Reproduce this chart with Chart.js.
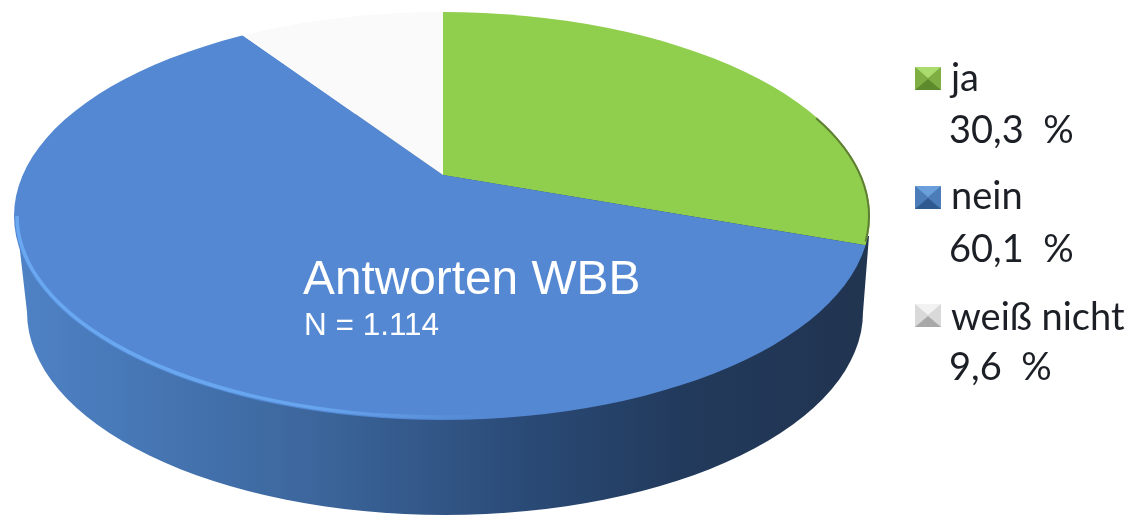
<!DOCTYPE html>
<html lang="de">
<head>
<meta charset="utf-8">
<title>Antworten WBB</title>
<script src="https://cdn.jsdelivr.net/npm/chart.js@4"></script>
<style>
  html, body { margin: 0; padding: 0; background: #fff; overflow: hidden; }
  #wrap { position: relative; width: 1137px; height: 515px; filter: blur(0.5px); }
  #pieChart { position: absolute; left: 0; top: 0; }
  .label { position: absolute; white-space: pre; line-height: 1; }
  .title { font-family: "Liberation Sans", Arial, sans-serif; color: #fff; }
  .legend { font-family: Lato, "Open Sans", sans-serif; font-size: 38px; color: #1c2026; }
  .icon { position: absolute; box-sizing: border-box; width: 26px; height: 23px; border-style: solid; border-width: 11.5px 13px; }
</style>
</head>
<body>
<div id="wrap">
  <canvas id="pieChart" width="1137" height="515"></canvas>
  <div class="label title" style="left:303px;top:254px;font-size:47.8px">Antworten WBB</div>
  <div class="label title" style="left:304px;top:309px;font-size:31.5px">N = 1.114</div>
</div>
<script>
// data
const categories = ["ja", "nein", "weiß nicht"];
const shares = [30.3, 60.1, 9.6];
const sliceColors = ["#90ce4e", "#5488d2", "#fafafa"];

// legend icons: top, sides, bottom of the bevel
const iconBevels = [
    ["#a9dc6c", "#7fae45", "#5c8a2c"],
    ["#6a9fdc", "#4d7db8", "#2f5a90"],
    ["#f2f2f2", "#d9d9d9", "#a8a8a8"]
];
const legendRows = [
    { icon: 67, name: 88, pct: 140 },
    { icon: 186, name: 206, pct: 259 },
    { icon: 304, name: 327, pct: 377 }
];

// the tilted disc as it appears on screen
const top3d = { x: 442, y: 216, rx: 428, ry: 204 };
const bottom3d = { x: 445, y: 312, rx: 418, ry: 203 };
const apex = { x: 443, y: 175 };
const tilt = 0.48;
const screenRadius = 700;

function ellipsePath(ctx, e) {
    ctx.beginPath();
    ctx.ellipse(e.x, e.y, e.rx, e.ry, 0, 0, Math.PI * 2);
}

function drawWall(ctx) {
    const grad = ctx.createLinearGradient(top3d.x - top3d.rx, 0, top3d.x + top3d.rx, 0);
    grad.addColorStop(0, "#4f82c6");
    grad.addColorStop(0.12, "#4879b8");
    grad.addColorStop(0.35, "#3c669c");
    grad.addColorStop(0.6, "#2a4a76");
    grad.addColorStop(0.78, "#223a5c");
    grad.addColorStop(1, "#213450");

    ctx.save();
    ctx.fillStyle = grad;
    ellipsePath(ctx, bottom3d);
    ctx.fill();
    ctx.beginPath();
    ctx.moveTo(top3d.x - top3d.rx + 2, top3d.y);
    ctx.lineTo(top3d.x + top3d.rx - 1, top3d.y + 20);
    ctx.lineTo(bottom3d.x + bottom3d.rx, bottom3d.y);
    ctx.lineTo(bottom3d.x - bottom3d.rx, bottom3d.y);
    ctx.closePath();
    ctx.fill();
    ctx.restore();
}

function drawRim(ctx) {
    const grad = ctx.createLinearGradient(top3d.x - top3d.rx, 0, top3d.x + top3d.rx, 0);
    grad.addColorStop(0, "rgba(108,172,245,0.9)");
    grad.addColorStop(0.35, "rgba(108,172,245,0.8)");
    grad.addColorStop(0.55, "rgba(108,172,245,0)");
    ctx.save();
    ctx.strokeStyle = grad;
    ctx.lineWidth = 3.5;
    ctx.beginPath();
    ctx.ellipse(top3d.x, top3d.y, top3d.rx - 3, top3d.ry - 3, 0, Math.PI * 0.4, Math.PI);
    ctx.stroke();

    // dark edge behind the green slice
    ctx.strokeStyle = "#5f7d33";
    ctx.lineWidth = 2;
    ctx.beginPath();
    ctx.ellipse(top3d.x, top3d.y, top3d.rx - 1, top3d.ry - 1, 0, -Math.PI * 0.16, Math.PI * 0.04);
    ctx.stroke();
    ctx.restore();
}

const tiltedPie = {
    id: "tiltedPie",
    beforeDatasetsDraw(chart) {
        const ctx = chart.ctx;
        const arc = chart.getDatasetMeta(0).data[0];
        const scale = screenRadius / arc.outerRadius;
        drawWall(ctx);
        ctx.save();
        ellipsePath(ctx, top3d);
        ctx.clip();
        ctx.translate(apex.x, apex.y);
        ctx.scale(scale, scale * tilt);
        ctx.translate(-arc.x, -arc.y);
    },
    afterDatasetsDraw(chart) {
        chart.ctx.restore();
        drawRim(chart.ctx);
    }
};

new Chart(document.getElementById("pieChart"), {
    type: "pie",
    data: {
        labels: categories,
        datasets: [{
            data: shares,
            backgroundColor: sliceColors,
            borderWidth: 0
        }]
    },
    options: {
        responsive: false,
        animation: false,
        events: [],
        plugins: {
            legend: { display: false },
            tooltip: { enabled: false }
        }
    },
    plugins: [tiltedPie]
});

// legend
const wrap = document.getElementById("wrap");
function addText(text, left, baseline) {
    const el = document.createElement("div");
    el.className = "label legend";
    el.textContent = text;
    el.style.left = left + "px";
    el.style.top = (baseline - 31) + "px";
    wrap.appendChild(el);
}
categories.forEach((name, i) => {
    const icon = document.createElement("div");
    icon.className = "icon";
    icon.style.left = "915px";
    icon.style.top = legendRows[i].icon + "px";
    icon.style.borderColor = `${iconBevels[i][0]} ${iconBevels[i][1]} ${iconBevels[i][2]}`;
    wrap.appendChild(icon);
    addText(name, 951, legendRows[i].name);
    addText(String(shares[i]).replace(".", ",") + "  %", 949, legendRows[i].pct);
});
</script>
</body>
</html>
